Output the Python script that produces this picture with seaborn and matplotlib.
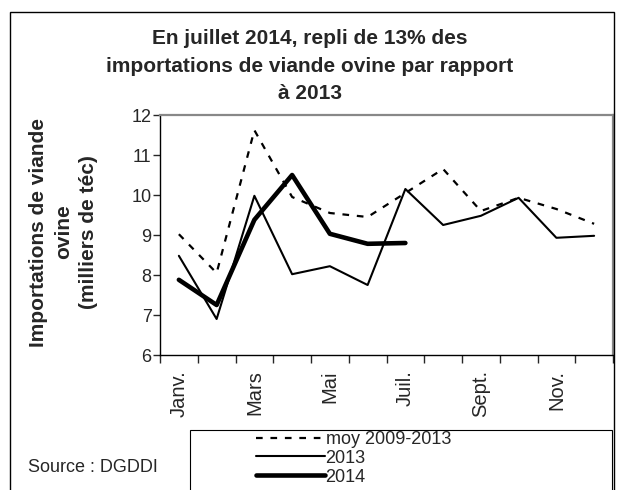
import numpy as np
import pandas as pd
import matplotlib
matplotlib.use("Agg")
import matplotlib.pyplot as plt
import seaborn as sns
from matplotlib.patches import Rectangle

# Monthly data (milliers de téc)
months = ["Janv.", "Févr.", "Mars", "Avr.", "Mai", "Juin", "Juil.", "Août",
          "Sept.", "Oct.", "Nov.", "Déc."]
moy_2009_2013 = [9.02, 8.05, 11.62, 9.95, 9.55, 9.45, 10.05, 10.65, 9.6, 9.93, 9.65, 9.28]
y2013 = [8.48, 6.9, 9.98, 8.02, 8.22, 7.75, 10.15, 9.25, 9.48, 9.93, 8.93, 8.98]
y2014 = [7.88, 7.25, 9.38, 10.5, 9.03, 8.78, 8.8]

sns.set_style("white")
plt.rcParams['font.family'] = ['Liberation Sans', 'DejaVu Sans']

x_all = np.arange(len(months))
df_moy = pd.DataFrame({"x": x_all, "v": moy_2009_2013})
df_13 = pd.DataFrame({"x": x_all, "v": y2013})
df_14 = pd.DataFrame({"x": x_all[:len(y2014)], "v": y2014})

fig = plt.figure(figsize=(6.17, 4.9), dpi=100)
ax = fig.add_axes([160 / 617, 1 - 355 / 490, 453 / 617, 240 / 490])

sns.lineplot(data=df_moy, x="x", y="v", ax=ax, color="black", lw=1.6,
             linestyle=(0, (3, 3.5)), label="moy 2009-2013")
sns.lineplot(data=df_13, x="x", y="v", ax=ax, color="black", lw=1.5, label="2013")
sns.lineplot(data=df_14, x="x", y="v", ax=ax, color="black", lw=3.3, label="2014")

ax.set_xlim(-0.5, 11.5)
ax.set_ylim(6, 12)
ax.set_yticks(range(6, 13))
ax.tick_params(axis="y", which="major", direction="out", length=5, width=1,
               labelsize=13, left=True, pad=1)
ax.set_xticks(np.arange(-0.5, 12, 1))
ax.set_xticklabels([])
ax.set_xticks(x_all[::2], minor=True)
ax.set_xticklabels(months[::2], minor=True, rotation=90, fontsize=14.5)
ax.tick_params(axis="x", which="major", direction="out", length=6, width=1, bottom=True)
ax.tick_params(axis="x", which="minor", length=0, pad=11)
ax.set_xlabel("")
ax.set_ylabel("Importations de viande\novine\n(milliers de téc)", fontsize=15,
              fontweight="bold", va="center", linespacing=1.4)
ax.yaxis.set_label_coords((64 - 160) / 453, (355 - 232) / 240)

for s in ["left", "bottom"]:
    ax.spines[s].set_color("black")
    ax.spines[s].set_linewidth(1)
for s in ["top", "right"]:
    ax.spines[s].set_color("#888888")
    ax.spines[s].set_linewidth(1.6)

fig.suptitle("En juillet 2014, repli de 13% des\nimportations de viande ovine par rapport\nà 2013",
             x=310 / 617, y=1 - 66 / 490, va="center", fontsize=15,
             fontweight="bold", linespacing=1.55)

ax.get_legend().remove()
handles, labels = ax.get_legend_handles_labels()
fig.legend(handles, labels, loc="upper left", bbox_to_anchor=(256 / 617, 1 - 431 / 490),
           frameon=False, fontsize=13, handlelength=3.8, handletextpad=0.05,
           labelspacing=0.1, borderpad=0, borderaxespad=0)
fig.patches.append(Rectangle((190 / 617, -0.05), 422 / 617, 0.05 + 60 / 490,
                             transform=fig.transFigure, fill=False, ec="black", lw=0.8))
fig.text(28 / 617, 1 - 467 / 490, "Source : DGDDI", fontsize=13, va="center")

# figure border
fig.patches.append(Rectangle((10 / 617, -0.05), 604 / 617, 0.05 + 478 / 490,
                             transform=fig.transFigure, fill=False, ec="black", lw=1))

fig.savefig("out.png", dpi=100)
